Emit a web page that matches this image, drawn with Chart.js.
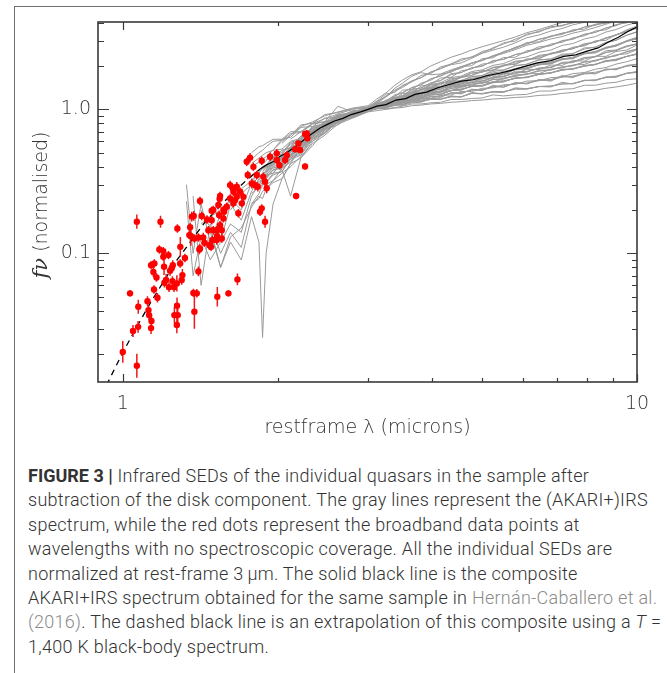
<!DOCTYPE html>
<html>
<head>
<meta charset="utf-8">
<script src="https://cdn.jsdelivr.net/npm/chart.js@4.4.0/dist/chart.umd.min.js"></script>
<style>
  body { margin: 0; background: #fff; width: 667px; height: 673px; overflow: hidden; position: relative; }
  #frame { position: absolute; left: 14px; top: 6px; right: 0; bottom: 0; border-top: 1px solid #707070; border-left: 1px solid #707070; }
  #chart { position: absolute; left: 0; top: 0; }
  #caption { position: absolute; left: 28px; top: 464px; font-family: Roboto, "Liberation Sans", sans-serif; font-weight: 300;
             font-size: 18px; line-height: 24.4px; letter-spacing: 0.28px; color: #333; white-space: nowrap; }
  #caption b { font-weight: 700; letter-spacing: 0; }
  #caption .ref { color: #8c8c8c; }
</style>
</head>
<body>
<div id="frame"></div>
<canvas id="chart" width="667" height="445"></canvas>
<div id="caption"><b>FIGURE 3 |</b> Infrared SEDs of the individual quasars in the sample after<br>subtraction of the disk component. The gray lines represent the (AKARI+)IRS<br>spectrum, while the red dots represent the broadband data points at<br>wavelengths with no spectroscopic coverage. All the individual SEDs are<br>normalized at rest-frame 3&thinsp;μm. The solid black line is the composite<br>AKARI+IRS spectrum obtained for the same sample in <span class="ref">Hernán-Caballero et al.</span><br><span class="ref">(2016)</span>. The dashed black line is an extrapolation of this composite using a <i>T</i> =<br>1,400 K black-body spectrum.</div>
<script>
const _ = null;

// rest-frame wavelengths (microns) of the individual (AKARI+)IRS spectra
const specLambda = [1.33,1.37,1.42,1.48,1.55,1.62,1.70,1.78,1.84,1.87,1.90,1.96,2.04,2.12,2.22,2.34,2.47,2.62,2.80,
                    3.00,3.12,3.25,3.38,3.50,3.65,3.80,3.97,4.15,4.35,4.55,4.77,5.00,5.25,5.50,5.80,6.10,6.45,6.80,7.15,7.50,7.90,8.30,8.70,9.10,9.55,10.0];

const sed01 = [0.30,0.10,0.22,0.12,0.19,0.24,0.20,0.31,0.36,0.33,0.38,0.44,0.46,0.50,0.61,0.72,0.76,0.83,0.94,
               1.00,1.08,1.04,1.15,1.12,1.24,1.20,1.37,1.31,1.45,1.44,1.57,1.58,1.66,1.69,1.84,1.83,1.92,1.95,2.12,2.14,2.28,2.32,2.55,2.58,2.76,2.84];
const sed02 = [0.23,0.07,0.13,0.09,0.12,0.16,0.14,0.25,0.30,0.32,0.35,0.36,0.44,0.47,0.58,0.64,0.77,0.82,0.93,
               0.99,1.05,1.03,1.09,1.08,1.17,1.14,1.24,1.21,1.30,1.28,1.38,1.35,1.47,1.42,1.54,1.50,1.61,1.57,1.72,1.66,1.79,1.76,1.91,1.88,2.02,2.06];
const sed03 = [_,0.25,0.06,0.16,0.10,0.14,0.11,0.22,0.26,0.30,0.33,0.38,0.40,0.48,0.53,0.66,0.72,0.85,0.90,
               0.98,1.03,1.12,1.12,1.22,1.26,1.38,1.39,1.53,1.54,1.68,1.72,1.86,1.86,2.04,2.05,2.24,2.24,2.46,2.52,2.70,2.76,2.99,3.01,3.30,3.45,3.70];
const sed04 = [_,_,0.20,0.15,0.08,0.12,0.09,0.18,0.12,0.026,0.10,0.22,0.33,0.42,0.54,0.60,0.74,0.80,0.91,
               0.97,1.01,1.02,1.07,1.08,1.13,1.13,1.19,1.18,1.24,1.22,1.31,1.28,1.32,1.31,1.41,1.39,1.44,1.43,1.54,1.50,1.59,1.58,1.68,1.67,1.78,1.80];
const sed05 = [_,_,0.16,0.18,0.20,0.23,0.28,0.32,0.37,0.39,0.41,0.47,0.49,0.57,0.61,0.73,0.79,0.90,0.94,
               1.01,1.06,1.13,1.18,1.29,1.30,1.45,1.49,1.65,1.67,1.85,1.91,2.06,2.11,2.29,2.30,2.55,2.62,2.84,2.92,3.13,3.24,3.50,3.56,3.88,3.98,4.30];
const sed06 = [_,_,_,0.14,0.08,0.13,0.15,0.21,0.25,0.24,0.28,0.32,0.39,0.43,0.55,0.62,0.76,0.81,0.93,
               1.00,1.05,1.07,1.14,1.15,1.26,1.25,1.39,1.37,1.50,1.49,1.61,1.63,1.74,1.73,1.91,1.91,2.05,2.07,2.26,2.25,2.45,2.47,2.68,2.76,2.98,3.08];
const sed07 = [_,_,_,_,0.12,0.22,0.17,0.27,0.33,0.31,0.36,0.42,0.45,0.52,0.57,0.70,0.75,0.88,0.93,
               1.02,1.07,1.16,1.22,1.36,1.37,1.52,1.59,1.75,1.81,1.98,2.01,2.25,2.28,2.52,2.64,2.91,2.94,3.23,3.31,3.57,3.60,3.90,3.95,4.26,4.33,4.60];
const sed08 = [_,_,_,_,_,0.20,0.26,0.30,0.34,0.36,0.37,0.40,0.38,0.25,0.46,0.56,0.72,0.78,0.91,
               0.97,1.01,1.01,1.03,1.05,1.09,1.09,1.11,1.12,1.17,1.17,1.19,1.20,1.26,1.24,1.26,1.27,1.34,1.34,1.38,1.39,1.47,1.47,1.52,1.54,1.61,1.63];
const sed09 = [_,_,_,_,_,_,_,0.35,0.38,0.40,0.41,0.46,0.47,0.55,0.58,0.72,0.76,0.88,0.92,
               1.00,1.02,1.07,1.10,1.15,1.16,1.24,1.27,1.34,1.34,1.44,1.47,1.54,1.54,1.65,1.69,1.77,1.77,1.90,1.94,2.03,2.05,2.19,2.26,2.39,2.43,2.60];
const sed10 = [_,_,_,_,_,_,_,0.42,0.46,0.48,0.50,0.52,0.62,0.64,0.75,0.76,0.87,0.88,0.98,
               0.99,1.08,1.09,1.16,1.18,1.31,1.30,1.42,1.44,1.58,1.57,1.69,1.71,1.88,1.87,2.02,2.05,2.21,2.23,2.42,2.43,2.67,2.69,2.92,3.02,3.28,3.46];
const sed11 = [_,_,_,_,_,_,_,0.26,0.29,0.31,0.33,0.38,0.39,0.47,0.50,0.64,0.70,0.84,0.89,
               0.98,1.04,1.07,1.12,1.13,1.23,1.23,1.32,1.33,1.46,1.45,1.54,1.55,1.69,1.68,1.79,1.81,1.94,1.95,2.09,2.11,2.29,2.31,2.48,2.55,2.74,2.86];
const sed12 = [_,_,_,_,_,_,_,0.50,0.55,0.56,0.58,0.62,0.62,0.70,0.70,0.80,0.82,0.92,0.95,
               1.04,1.14,1.28,1.31,1.47,1.55,1.72,1.77,1.97,2.06,2.24,2.29,2.52,2.63,2.90,2.98,3.33,3.44,3.75,3.79,4.04,4.10,4.34,4.40,4.64,4.75,5.00];
const sed13 = [_,_,_,_,_,_,_,0.22,0.24,0.27,0.28,0.31,0.33,0.42,0.46,0.60,0.68,0.82,0.88,
               0.97,1.03,1.03,1.11,1.11,1.18,1.19,1.29,1.27,1.35,1.36,1.46,1.45,1.55,1.55,1.66,1.66,1.75,1.78,1.90,1.90,2.00,2.04,2.19,2.20,2.33,2.41];
const sed14 = [_,_,_,_,_,_,_,_,_,0.38,0.40,0.45,0.46,0.54,0.57,0.71,0.77,0.89,0.93,
               1.00,1.10,1.11,1.19,1.23,1.38,1.40,1.53,1.59,1.77,1.80,1.94,1.99,2.18,2.22,2.40,2.49,2.72,2.77,2.98,3.06,3.33,3.42,3.67,3.81,4.10,4.28];
const sed15 = [_,_,_,_,_,_,_,_,_,_,0.45,0.46,0.52,0.54,0.65,0.70,0.82,0.85,0.97,
               1.01,1.06,1.08,1.18,1.18,1.31,1.36,1.45,1.48,1.63,1.67,1.78,1.81,1.96,2.01,2.13,2.18,2.37,2.43,2.56,2.63,2.86,2.92,3.14,3.26,3.56,3.78];
const sed16 = [_,_,_,_,_,_,_,_,_,_,_,0.36,0.42,0.45,0.57,0.64,0.78,0.83,0.94,
               1.00,1.07,1.06,1.15,1.15,1.25,1.26,1.38,1.38,1.48,1.50,1.62,1.62,1.73,1.76,1.89,1.91,2.05,2.07,2.21,2.25,2.44,2.47,2.66,2.74,2.96,3.11];
const sed17 = [_,_,_,_,_,_,_,_,0.30,0.33,0.34,0.38,0.40,0.48,0.52,0.66,0.72,0.85,0.89,
               0.99,1.04,1.06,1.12,1.13,1.22,1.21,1.31,1.31,1.40,1.41,1.50,1.51,1.61,1.62,1.72,1.74,1.87,1.87,1.97,2.00,2.14,2.16,2.29,2.35,2.52,2.63];
const sed18 = [_,_,_,_,_,_,_,0.40,0.43,0.45,0.47,0.52,0.53,0.60,0.63,0.76,0.80,0.91,0.94,
               1.00,1.06,1.04,1.11,1.11,1.18,1.18,1.28,1.27,1.35,1.36,1.45,1.45,1.53,1.55,1.65,1.66,1.76,1.79,1.89,1.90,2.02,2.05,2.16,2.18,2.33,2.43];
const sed19 = [_,_,_,_,_,_,_,_,_,0.33,0.35,0.39,0.41,0.49,0.52,0.66,0.72,0.86,0.90,
               0.98,1.03,1.02,1.10,1.07,1.15,1.15,1.22,1.22,1.30,1.29,1.37,1.36,1.43,1.43,1.52,1.51,1.59,1.59,1.68,1.68,1.76,1.78,1.88,1.90,1.99,2.04];
const sed20 = [_,_,_,_,_,_,_,_,_,_,_,_,0.50,0.59,0.62,0.75,0.79,0.90,0.93,
               1.02,1.10,1.14,1.26,1.30,1.42,1.48,1.63,1.70,1.84,1.93,2.10,2.19,2.36,2.49,2.68,2.83,3.07,3.19,3.37,3.48,3.72,3.83,4.02,4.19,4.42,4.62];
const sed21 = [_,_,_,_,_,_,_,0.45,0.50,0.52,0.55,0.60,0.61,0.68,0.69,0.79,0.82,1.05,0.96,
               1.03,1.07,1.10,1.19,1.20,1.32,1.34,1.48,1.50,1.60,1.66,1.79,1.82,1.94,2.00,2.16,2.20,2.33,2.42,2.58,2.64,2.82,2.93,3.13,3.28,3.52,3.73];
const sed22 = [_,_,_,_,_,_,_,_,_,_,0.31,0.35,0.37,0.45,0.48,0.62,0.68,0.82,0.88,
               0.98,1.02,1.03,1.09,1.07,1.14,1.14,1.17,1.17,1.23,1.22,1.29,1.28,1.32,1.32,1.39,1.39,1.44,1.45,1.50,1.51,1.59,1.60,1.66,1.68,1.78,1.83];
const sed23 = [_,_,_,_,_,_,_,_,0.36,0.39,0.40,0.45,0.46,0.54,0.56,0.69,0.74,0.87,0.92,
               1.00,1.08,1.07,1.17,1.18,1.26,1.31,1.42,1.44,1.54,1.59,1.68,1.72,1.83,1.88,2.00,2.06,2.20,2.24,2.37,2.44,2.62,2.71,2.90,3.01,3.26,3.44];
const sed24 = [_,_,_,_,_,_,_,_,_,_,_,_,0.44,0.51,0.54,0.67,0.73,0.86,0.90,
               0.99,1.05,1.07,1.15,1.14,1.22,1.26,1.34,1.34,1.44,1.47,1.54,1.57,1.65,1.69,1.80,1.83,1.92,1.97,2.09,2.13,2.24,2.33,2.48,2.57,2.72,2.84];
const sed25 = [_,_,_,_,_,_,_,_,_,_,_,0.40,0.47,0.48,0.60,0.66,0.79,0.84,0.96,
               1.01,1.09,1.13,1.21,1.25,1.37,1.41,1.52,1.58,1.74,1.80,1.94,2.01,2.16,2.23,2.40,2.49,2.65,2.78,3.00,3.09,3.30,3.43,3.67,3.83,4.08,4.30];
const sed26 = [_,_,_,_,_,_,_,_,_,_,_,_,_,0.55,0.65,0.70,0.82,0.85,0.95,
               1.00,1.05,1.07,1.11,1.13,1.21,1.22,1.31,1.33,1.40,1.44,1.50,1.53,1.62,1.63,1.73,1.76,1.84,1.89,1.97,2.02,2.12,2.19,2.29,2.37,2.50,2.62];
const sed27 = [_,_,_,_,_,_,_,_,_,0.42,0.44,0.49,0.50,0.58,0.61,0.74,0.79,0.90,0.94,
               1.01,1.04,1.05,1.09,1.10,1.16,1.18,1.23,1.24,1.30,1.31,1.36,1.37,1.44,1.46,1.51,1.52,1.60,1.61,1.68,1.70,1.78,1.81,1.88,1.92,2.00,2.05];
const sed28 = [_,_,_,_,_,_,_,_,_,_,_,_,_,_,0.62,0.74,0.78,0.89,0.93,
               1.00,1.07,1.07,1.16,1.17,1.24,1.28,1.36,1.40,1.48,1.52,1.61,1.65,1.73,1.78,1.89,1.94,2.03,2.10,2.22,2.29,2.42,2.50,2.65,2.79,2.96,3.10];
const sed29 = [_,_,_,_,_,_,_,0.28,0.32,0.30,0.35,0.40,0.42,0.52,0.55,0.68,0.73,0.86,0.91,
               0.99,1.05,1.06,1.10,1.11,1.19,1.20,1.26,1.28,1.36,1.38,1.44,1.46,1.54,1.57,1.64,1.67,1.75,1.80,1.87,1.91,2.00,2.06,2.15,2.21,2.33,2.42];
const sed30 = [_,_,_,_,_,_,_,_,_,_,_,_,0.47,0.54,0.56,0.70,0.76,0.88,0.93,
               1.02,1.14,1.22,1.34,1.42,1.56,1.66,1.82,1.91,2.07,2.18,2.32,2.46,2.68,2.84,3.07,3.27,3.50,3.68,3.84,3.97,4.17,4.29,4.47,4.59,4.77,4.90];
const sed31 = [_,_,_,_,_,_,_,_,_,_,0.39,0.43,0.45,0.53,0.56,0.70,0.75,0.87,0.92,
               0.99,1.03,1.05,1.11,1.12,1.17,1.20,1.26,1.27,1.35,1.38,1.44,1.47,1.56,1.58,1.64,1.68,1.75,1.79,1.87,1.92,1.99,2.05,2.16,2.23,2.33,2.43];
const sed32 = [_,_,_,_,_,_,_,_,_,_,_,_,_,0.48,0.58,0.65,0.79,0.84,0.95,
               1.00,1.06,1.09,1.15,1.18,1.26,1.30,1.39,1.44,1.52,1.56,1.64,1.68,1.79,1.83,1.92,1.99,2.09,2.13,2.23,2.30,2.44,2.53,2.68,2.80,2.98,3.14];
const sed33 = [_,_,_,_,_,_,_,_,0.33,0.36,0.37,0.43,0.44,0.51,0.54,0.68,0.74,0.87,0.92,
               0.98,1.02,1.03,1.07,1.07,1.11,1.12,1.18,1.18,1.22,1.22,1.29,1.29,1.33,1.33,1.38,1.38,1.44,1.45,1.50,1.51,1.58,1.60,1.67,1.70,1.78,1.82];
const sed34 = [_,_,_,_,_,_,_,_,_,_,_,0.46,0.52,0.54,0.65,0.70,0.82,0.86,0.96,
               1.01,1.11,1.14,1.24,1.31,1.41,1.48,1.62,1.71,1.85,1.96,2.08,2.18,2.34,2.48,2.70,2.86,3.06,3.22,3.38,3.50,3.72,3.88,4.04,4.20,4.42,4.60];
const sed35 = [_,_,_,_,_,_,_,_,_,_,_,_,0.58,0.66,0.76,0.82,0.90,0.96,1.02,
               1.06,1.18,1.30,1.47,1.60,1.74,1.82,2.00,2.14,2.30,2.42,2.58,2.72,2.86,3.00,3.18,3.40,3.58,3.80,4.00,4.20,4.40,4.60,4.80,5.00,5.20,5.40];
const sed36 = [_,_,_,_,_,_,_,_,_,_,_,0.52,0.60,0.66,0.78,0.80,0.92,0.95,1.01,
               1.04,1.12,1.24,1.36,1.45,1.58,1.66,1.80,1.93,2.04,2.10,2.26,2.45,2.58,2.70,2.90,3.14,3.28,3.50,3.64,3.86,4.02,4.22,4.40,4.60,4.80,5.00];
const sed37 = [_,_,_,_,_,_,_,_,_,_,_,_,_,0.62,0.70,0.80,0.86,0.93,1.00,
               1.03,1.10,1.22,1.40,1.52,1.70,1.80,1.74,1.76,1.88,1.98,2.10,2.20,2.34,2.44,2.60,2.78,2.92,3.08,3.20,3.38,3.52,3.70,3.90,4.10,4.30,4.50];
const sed38 = [_,_,_,_,_,_,_,_,_,_,0.40,0.41,0.49,0.50,0.63,0.66,0.80,0.83,0.95,
               1.01,1.04,1.11,1.11,1.19,1.20,1.30,1.31,1.41,1.42,1.53,1.53,1.65,1.64,1.77,1.76,1.90,1.89,2.03,2.02,2.18,2.16,2.34,2.33,2.52,2.58,2.80];
const sed39 = [_,_,_,_,_,_,_,_,_,0.37,0.39,0.41,0.47,0.51,0.60,0.66,0.78,0.84,0.94,
               1.02,1.05,1.12,1.16,1.24,1.28,1.37,1.42,1.52,1.56,1.66,1.72,1.82,1.88,2.00,2.08,2.20,2.28,2.42,2.51,2.66,2.78,2.96,3.10,3.30,3.46,3.66];
const sed40 = [_,_,_,_,_,_,_,_,_,_,_,_,0.46,0.50,0.60,0.66,0.77,0.84,0.93,
               0.99,1.06,1.09,1.18,1.20,1.30,1.31,1.40,1.43,1.54,1.54,1.64,1.67,1.78,1.79,1.92,1.94,2.06,2.10,2.24,2.27,2.44,2.50,2.70,2.78,3.00,3.16];
const sed41 = [_,_,_,_,_,_,_,_,0.28,0.30,0.31,0.36,0.37,0.46,0.49,0.63,0.69,0.83,0.89,
               0.98,1.01,1.05,1.06,1.11,1.12,1.18,1.19,1.25,1.26,1.33,1.33,1.40,1.41,1.48,1.49,1.57,1.58,1.66,1.68,1.77,1.80,1.90,1.95,2.06,2.14,2.25];
const sed42 = [_,_,_,_,_,_,_,_,_,_,_,0.43,0.45,0.53,0.58,0.71,0.76,0.89,0.93,
               1.00,1.07,1.10,1.20,1.23,1.34,1.37,1.49,1.53,1.66,1.70,1.83,1.88,2.02,2.08,2.24,2.31,2.49,2.58,2.78,2.86,3.08,3.20,3.44,3.58,3.84,4.02];
const sed43 = [_,_,_,_,_,_,_,_,_,_,0.30,0.32,0.36,0.40,0.47,0.58,0.66,0.79,0.87,
               0.96,0.98,1.00,1.02,1.03,1.06,1.07,1.09,1.10,1.12,1.13,1.15,1.16,1.18,1.19,1.21,1.22,1.25,1.26,1.29,1.31,1.34,1.36,1.40,1.43,1.47,1.52];

const sedList = [sed01, sed02, sed03, sed04, sed05, sed06, sed07, sed08, sed09, sed10, sed11, sed12,
                 sed13, sed14, sed15, sed16, sed17, sed18, sed19, sed20, sed21, sed22, sed23, sed24,
                 sed25, sed26, sed27, sed28, sed29, sed30, sed31, sed32, sed33, sed34, sed35, sed36,
                 sed37, sed38, sed39, sed40, sed41, sed42, sed43];

// composite AKARI+IRS spectrum (solid black)
const compLambda = [1.85,1.90,1.96,2.02,2.08,2.14,2.20,2.27,2.34,2.42,2.50,2.58,2.68,2.78,2.90,3.00,3.12,3.25,3.40,3.55,
                    3.70,3.90,4.10,4.30,4.55,4.80,5.10,5.40,5.70,6.00,6.40,6.80,7.20,7.60,8.00,8.40,8.80,9.20,9.60,10.0];
const compFlux   = [0.385,0.41,0.432,0.47,0.497,0.535,0.572,0.632,0.682,0.742,0.786,0.83,0.866,0.92,0.96,1.00,1.052,1.078,1.16,1.188,
                    1.27,1.318,1.412,1.482,1.568,1.605,1.71,1.78,1.866,1.97,2.10,2.18,2.33,2.39,2.535,2.67,2.935,3.17,3.47,3.73];

// T = 1400 K black-body extrapolation (dashed black)
const bbLambda = [0.93,1.00,1.06,1.13,1.20,1.275,1.36,1.445,1.54,1.64,1.74,1.85];
const bbFlux   = [0.0122,0.0205,0.030,0.045,0.0635,0.090,0.123,0.165,0.210,0.265,0.322,0.385];

// broadband photometry (red dots), fractional errors
const redLambda = [1.000,1.033,1.047,1.065,1.065,1.071,1.072,1.117,1.122,1.125,
                   1.137,1.135,1.150,1.168,1.135,1.152,1.147,1.163,1.178,1.184,
                   1.199,1.203,1.205,1.214,1.227,1.230,1.236,1.245,1.251,1.249,
                   1.258,1.260,1.274,1.279,1.275,1.277,1.274,1.294,1.293,1.306,
                   1.302,1.321,1.347,1.352,1.356,1.362,1.372,1.393,1.378,1.374,
                   1.378,1.403,1.403,1.409,1.413,1.413,1.424,1.434,1.441,1.458,
                   1.467,1.474,1.489,1.485,1.494,1.500,1.523,1.523,1.527,1.525,
                   1.534,1.539,1.546,1.546,1.558,1.558,1.569,1.543,1.574,1.569,
                   1.593,1.605,1.617,1.617,1.637,1.641,1.641,1.654,1.666,1.666,
                   1.671,1.678,1.691,1.704,1.716,1.742,1.750,1.768,1.782,1.795,
                   1.808,1.822,1.830,1.849,1.863,1.863,1.876,1.891,1.891,1.905,
                   1.934,1.993,2.017,2.069,2.084,2.163,2.195,2.212,2.262,2.279,
                   2.286,2.262,2.173,1.489,1.500,1.199,1.993];
const redFlux = [0.0207,0.0528,0.0289,0.166,0.0166,0.0309,0.0426,0.0466,0.0404,0.0373,
                 0.0339,0.0303,0.0562,0.0492,0.0829,0.0852,0.0742,0.0681,0.1066,0.166,
                 0.1037,0.0807,0.0625,0.0653,0.0973,0.0583,0.0757,0.0790,0.0829,0.0642,
                 0.0583,0.0373,0.0318,0.0373,0.0433,0.149,0.0619,0.111,0.0852,0.0707,
                 0.0653,0.0928,0.134,0.152,0.132,0.180,0.0532,0.0528,0.0393,0.182,
                 0.127,0.0750,0.129,0.1066,0.231,0.1083,0.182,0.129,0.1185,0.172,
                 0.145,0.114,0.198,0.111,0.124,0.145,0.145,0.124,0.0500,0.132,
                 0.2165,0.1845,0.250,0.157,0.145,0.127,0.200,0.240,0.1945,0.175,
                 0.211,0.0528,0.241,0.298,0.283,0.268,0.2225,0.2345,0.290,0.247,
                 0.0660,0.190,0.268,0.2225,0.247,0.433,0.350,0.461,0.306,0.399,
                 0.298,0.350,0.290,0.1945,0.2054,0.440,0.340,0.314,0.166,0.283,
                 0.469,0.495,0.410,0.445,0.481,0.528,0.580,0.522,0.674,0.681,
                 0.629,0.401,0.250,0.170,0.200,0.0947,0.445];
const redErr = [0.19,0.05,0.10,0.12,0.21,0.10,0.12,0.08,0.08,0.08,
                0.10,0.10,0.07,0.08,0.07,0.07,0.08,0.07,0.07,0.10,
                0.07,0.14,0.08,0.10,0.07,0.08,0.08,0.07,0.08,0.08,
                0.08,0.14,0.14,0.14,0.14,0.07,0.14,0.17,0.07,0.10,
                0.08,0.07,0.07,0.07,0.17,0.08,0.07,0.07,0.31,0.08,
                0.07,0.08,0.07,0.08,0.07,0.07,0.07,0.08,0.07,0.07,
                0.07,0.08,0.07,0.07,0.07,0.07,0.07,0.08,0.17,0.07,
                0.07,0.07,0.07,0.07,0.08,0.07,0.07,0.07,0.08,0.07,
                0.07,0.05,0.07,0.07,0.07,0.07,0.07,0.07,0.08,0.07,
                0.10,0.07,0.07,0.07,0.07,0.07,0.07,0.08,0.08,0.07,
                0.08,0.07,0.08,0.07,0.07,0.07,0.07,0.08,0.10,0.08,
                0.07,0.07,0.07,0.07,0.07,0.05,0.05,0.05,0.05,0.05,
                0.05,0.05,0.05,0.07,0.07,0.07,0.07];

// axes
const xTickValues = [1, 2, 3, 4, 5, 6, 7, 8, 9, 10];
const xMajor = [1, 10];
const xMajorText = ['1', '10'];
const yTickValues = [0.02, 0.03, 0.04, 0.05, 0.06, 0.07, 0.08, 0.09, 0.1, 0.2, 0.3, 0.4, 0.5, 0.6, 0.7, 0.8, 0.9, 1, 2, 3, 4];
const yMajor = [0.1, 1];
const yMajorText = ['0.1', '1.0'];

const axisFont = '"DejaVu Sans", "Liberation Sans", sans-serif';
const textColor = '#333';

function majorIndex(v, majors) {
  return majors.findIndex(m => Math.abs(v - m) < 1e-9);
}

function toXY(xs, ys) {
  return xs.map((x, i) => ({ x: x, y: ys[i] }));
}

// error bars as one broken line: low, high, gap
const errData = [];
redLambda.forEach((x, i) => {
  errData.push({ x: x, y: redFlux[i] / (1 + redErr[i]) });
  errData.push({ x: x, y: redFlux[i] * (1 + redErr[i]) });
  errData.push({ x: x, y: null });
});

const datasets = [
  { data: toXY(redLambda, redFlux), showLine: false, pointRadius: 3.2, pointHoverRadius: 3.2,
    backgroundColor: '#ff0000', borderWidth: 0 },
  { data: errData, borderColor: '#f01818', borderWidth: 1.5, pointRadius: 0, spanGaps: false },
  { data: toXY(bbLambda, bbFlux), borderColor: '#000', borderWidth: 1.3, borderDash: [6, 5], pointRadius: 0 },
  { data: toXY(compLambda, compFlux), borderColor: '#000', borderWidth: 1.2, pointRadius: 0 }
];
sedList.forEach(s => {
  datasets.push({ data: toXY(specLambda, s), borderColor: '#9a9a9a', borderWidth: 1, pointRadius: 0, spanGaps: false });
});

// inward ticks on all four sides, frame, axis titles
const frameTicks = {
  id: 'frameTicks',
  afterDraw(chart) {
    const ctx = chart.ctx;
    const a = chart.chartArea;
    const x = chart.scales.x, y = chart.scales.y;
    ctx.save();
    ctx.strokeStyle = '#3a3a3a';
    ctx.lineWidth = 1.2;
    ctx.beginPath();
    xTickValues.forEach(v => {
      const px = Math.round(x.getPixelForValue(v)) + 0.5;
      const len = majorIndex(v, xMajor) >= 0 ? 8 : 4;
      ctx.moveTo(px, a.bottom); ctx.lineTo(px, a.bottom - len);
      ctx.moveTo(px, a.top); ctx.lineTo(px, a.top + len);
    });
    yTickValues.forEach(v => {
      const py = Math.round(y.getPixelForValue(v)) + 0.5;
      const major = majorIndex(v, yMajor) >= 0;
      ctx.moveTo(a.left, py); ctx.lineTo(a.left + (major ? 11 : 6), py);
      ctx.moveTo(a.right, py); ctx.lineTo(a.right - (major ? 10 : 5), py);
    });
    ctx.stroke();
    ctx.lineWidth = 1.6;
    ctx.strokeRect(a.left, a.top, a.right - a.left, a.bottom - a.top);

    ctx.fillStyle = textColor;
    ctx.textAlign = 'center';
    ctx.textBaseline = 'alphabetic';
    ctx.font = '200 19px ' + axisFont;
    ctx.fillText('restframe λ (microns)', (a.left + a.right) / 2, 433);

    ctx.translate(42, (a.top + a.bottom) / 2 + 3);
    ctx.rotate(-Math.PI / 2);
    ctx.textAlign = 'left';
    ctx.textBaseline = 'middle';
    const fPart = 'fν', rest = ' (normalised)';
    ctx.font = 'italic 21px "DejaVu Serif", serif';
    const w1 = ctx.measureText(fPart).width;
    ctx.font = '200 19px ' + axisFont;
    const w2 = ctx.measureText(rest).width;
    const x0 = -(w1 + w2) / 2;
    ctx.font = 'italic 21px "DejaVu Serif", serif';
    ctx.fillText(fPart, x0, 0);
    ctx.font = '200 19px ' + axisFont;
    ctx.fillText(rest, x0 + w1, 0);
    ctx.restore();
  }
};

new Chart(document.getElementById('chart'), {
  type: 'line',
  data: { datasets: datasets },
  plugins: [frameTicks],
  options: {
    responsive: false,
    animation: false,
    events: [],
    devicePixelRatio: 1,
    layout: { padding: { left: 0, top: 22, right: 30, bottom: 0 } },
    plugins: { legend: { display: false }, tooltip: { enabled: false } },
    scales: {
      x: {
        type: 'logarithmic', min: 0.895, max: 10,
        grid: { display: false, drawTicks: false }, border: { display: false },
        afterBuildTicks: s => { s.ticks = xTickValues.map(v => ({ value: v })); },
        afterFit: s => { s.height = 63; },
        ticks: {
          autoSkip: false, maxRotation: 0, padding: 11, color: textColor,
          font: { family: axisFont, size: 19, weight: 200 },
          callback: v => { const i = majorIndex(v, xMajor); return i >= 0 ? xMajorText[i] : ''; }
        }
      },
      y: {
        type: 'logarithmic', min: 0.0128, max: 4.04,
        grid: { display: false, drawTicks: false }, border: { display: false },
        afterBuildTicks: s => { s.ticks = yTickValues.map(v => ({ value: v })); },
        afterFit: s => { s.width = 98; },
        ticks: {
          autoSkip: false, padding: 7, color: textColor,
          font: { family: axisFont, size: 19, weight: 200 },
          callback: v => { const i = majorIndex(v, yMajor); return i >= 0 ? yMajorText[i] : ''; }
        }
      }
    }
  }
});
</script>
</body>
</html>
